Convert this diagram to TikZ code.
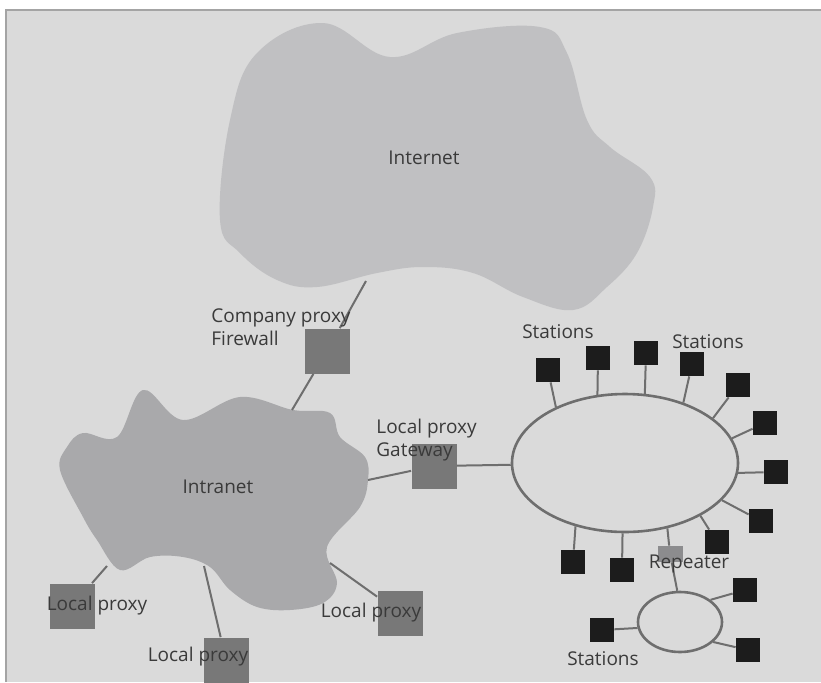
\documentclass[tikz,border=0pt]{standalone}
\usepackage{fontspec}
\setmainfont{Open Sans}
\usepackage{xcolor}
\usepackage{tikz}
\usetikzlibrary{shapes.geometric, positioning}

\definecolor{bgcol}{HTML}{DADADA}
\definecolor{framecol}{HTML}{A4A4A4}
\definecolor{netcol}{HTML}{C0C0C2}
\definecolor{intracol}{HTML}{A9A9AB}
\definecolor{proxycol}{HTML}{787878}
\definecolor{repcol}{HTML}{8C8C8E}
\definecolor{linecol}{HTML}{6E6E6E}
\definecolor{txtcol}{HTML}{3A3A3A}
\definecolor{stcol}{HTML}{1C1C1C}

\begin{document}
\begin{tikzpicture}[
  x=0.5pt, y=-0.5pt,
  proxy/.style={fill=proxycol, minimum width=22.5pt, minimum height=22.5pt, inner sep=0pt},
  station/.style={fill=stcol, minimum width=12pt, minimum height=12pt, inner sep=0pt},
  repbox/.style={fill=repcol, minimum width=12.5pt, minimum height=8pt, inner sep=0pt},
  ringbus/.style={draw=linecol, line width=1.3pt, ellipse, inner sep=0pt},
  lbl/.style={text=txtcol, font=\fontsize{9.5}{11.5}\selectfont, inner sep=0pt},
  link/.style={draw=linecol, line width=1pt}
]
\useasboundingbox (0,0) rectangle (821,682);
\fill[bgcol] (6,10) rectangle (821,682);
\draw[framecol, line width=0.8pt] (6,682) -- (6,10) -- (821,10);

% clouds
\fill[netcol] plot[smooth cycle, tension=0.65] coordinates {
  (323,23) (390,57) (457,33) (540,27) (567,53) (587,120) (610,147) (650,177)
  (653,207) (637,253) (607,287) (573,310) (523,297) (473,273) (423,267)
  (377,273) (317,287) (277,280) (240,253) (220,220) (230,120) (257,53)};
\fill[intracol] plot[smooth cycle, tension=0.6] coordinates {
  (143,390) (183,420) (240,397) (293,410) (330,413) (340,437) (365,457)
  (368,480) (360,507) (327,547) (337,583) (323,603) (290,610) (257,607)
  (230,590) (210,567) (183,557) (150,557) (120,570) (97,540) (83,517)
  (60,470) (67,447) (83,433) (117,437)};

\node[lbl] (inet) at (424,158) {Internet};
\node[lbl] (intra) at (218,487) {Intranet};

\coordinate (inetS) at (366,281);
\coordinate (intraN) at (292,410);
\coordinate (intraE) at (368,480);
\coordinate (intraSW) at (107,566);
\coordinate (intraS) at (204,566);
\coordinate (intraSE) at (330,563);

% proxies
\node[proxy] (cfw) at (327,351) {};
\node[proxy] (gw) at (434,466) {};
\node[proxy] (lp1) at (72,606) {};
\node[proxy] (lp2) at (226,660) {};
\node[proxy] (lp3) at (400,613) {};

\draw[link] (inetS) -- (cfw);
\draw[link] (cfw) -- (intraN);
\draw[link] (intraE) -- (gw);
\draw[link] (intraSW) -- (lp1);
\draw[link] (intraS) -- (lp2);
\draw[link] (intraSE) -- (lp3);

% ring networks
\node[ringbus, minimum width=113pt, minimum height=69pt] (ring) at (625,463) {};
\node[ringbus, minimum width=42pt, minimum height=30pt] (ring2) at (680,622) {};
\draw[link] (gw) -- (ring);

\node[station] (s1) at (548,370) {};
\node[station] (s2) at (598,358) {};
\node[station] (s3) at (646,353) {};
\node[station] (s4) at (692,364) {};
\node[station] (s5) at (738,385) {};
\node[station] (s6) at (765,423) {};
\node[station] (s7) at (776,472) {};
\node[station] (s8) at (761,521) {};
\node[station] (s9) at (717,542) {};
\node[station] (s10) at (573,562) {};
\node[station] (s11) at (622,570) {};
\node[station] (s12) at (745,590) {};
\node[station] (s13) at (748,650) {};
\node[station] (s14) at (602,630) {};
\node[repbox] (rep) at (670,554) {};

\draw[link] (ring.141) -- (s1);
\draw[link] (ring.112) -- (s2);
\draw[link] (ring.74) -- (s3);
\draw[link] (ring.46) -- (s4);
\draw[link] (ring.27) -- (s5);
\draw[link] (ring.13) -- (s6);
\draw[link] (ring.-5) -- (s7);
\draw[link] (ring.-21) -- (s8);
\draw[link] (ring.-35) -- (s9);
\draw[link] (ring.-128) -- (s10);
\draw[link] (ring.-92) -- (s11);
\draw[link] (ring.-57) -- (rep);
\draw[link] (rep) -- (ring2.95);
\draw[link] (ring2.36) -- (s12);
\draw[link] (ring2.-31) -- (s13);
\draw[link] (ring2.188) -- (s14);

% labels
\node[lbl, align=left, anchor=west] (cfwlbl) at (211,327) {Company proxy\\Firewall};
\node[lbl, align=left, anchor=west] (gwlbl) at (376,440) {Local proxy\\Gateway};
\node[lbl] (lp1lbl) at (97,606) {Local proxy};
\node[lbl] (lp2lbl) at (198,657) {Local proxy};
\node[lbl] (lp3lbl) at (371,613) {Local proxy};
\node[lbl] (st1lbl) at (558,332) {Stations};
\node[lbl] (st2lbl) at (708,342) {Stations};
\node[lbl] (st3lbl) at (603,659) {Stations};
\node[lbl] (replbl) at (689,564) {Repeater};
\end{tikzpicture}
\end{document}
